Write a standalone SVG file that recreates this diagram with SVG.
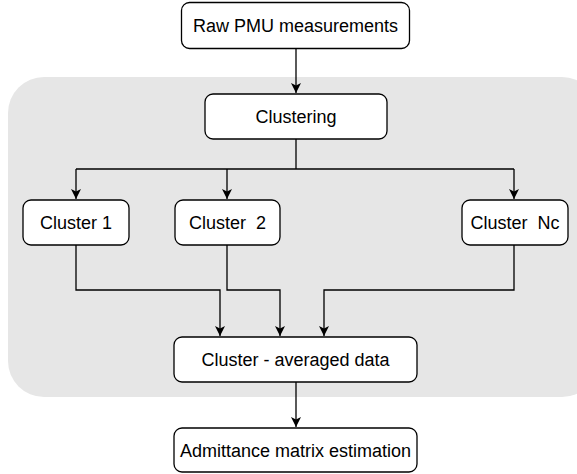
<svg xmlns="http://www.w3.org/2000/svg" width="577" height="474" viewBox="0 0 577 474">
<style>
.box{fill:#fff;stroke:#000;stroke-width:1.3}
.lbl{font-family:"Liberation Sans",Arial,Helvetica,sans-serif;font-size:18px;fill:#000;text-anchor:middle;white-space:pre}
.con{fill:none;stroke:#000;stroke-width:1.3}
</style>
<defs>
<marker id="arr" markerUnits="userSpaceOnUse" markerWidth="12" markerHeight="12" viewBox="0 0 12 12" refX="11" refY="6" orient="auto">
<path d="M1,1 L11,6 L1,11 L3.5,6 Z" fill="#000"/>
</marker>
</defs>
<rect id="panel" x="8" y="77" width="590" height="320" rx="36" fill="#e6e6e6"/>
<g id="connectors">
<path class="con" d="M296,48.5 V93" marker-end="url(#arr)"/>
<path class="con" d="M296,139 V169"/>
<path class="con" d="M76,169 H514"/>
<path class="con" d="M76,169 V199" marker-end="url(#arr)"/>
<path class="con" d="M227,169 V199" marker-end="url(#arr)"/>
<path class="con" d="M514,169 V199" marker-end="url(#arr)"/>
<path class="con" d="M76,245 V290 H220 V336" marker-end="url(#arr)"/>
<path class="con" d="M227,245 V290 H280 V336" marker-end="url(#arr)"/>
<path class="con" d="M514,245 V290 H324 V336" marker-end="url(#arr)"/>
<path class="con" d="M296,382 V427" marker-end="url(#arr)"/>
</g>
<g id="raw"><rect class="box" x="181.5" y="2.5" width="228" height="46" rx="8"/><text class="lbl" x="295.5" y="32">Raw PMU measurements</text></g>
<g id="clustering"><rect class="box" x="205" y="94" width="182" height="45" rx="8"/><text class="lbl" x="296" y="123">Clustering</text></g>
<g id="cluster1"><rect class="box" x="23" y="200" width="106" height="45" rx="8"/><text class="lbl" x="76" y="229">Cluster 1</text></g>
<g id="cluster2"><rect class="box" x="175" y="200" width="105" height="45" rx="8"/><text class="lbl" x="227.5" y="229">Cluster  2</text></g>
<g id="clusterNc"><rect class="box" x="462" y="200" width="106" height="45" rx="8"/><text class="lbl" x="515" y="229">Cluster  Nc</text></g>
<g id="averaged"><rect class="box" x="174" y="337" width="243" height="45" rx="8"/><text class="lbl" x="295.5" y="366">Cluster - averaged data</text></g>
<g id="admittance"><rect class="box" x="174" y="428" width="243" height="44" rx="8"/><text class="lbl" x="295.5" y="456.5">Admittance matrix estimation</text></g>
</svg>
